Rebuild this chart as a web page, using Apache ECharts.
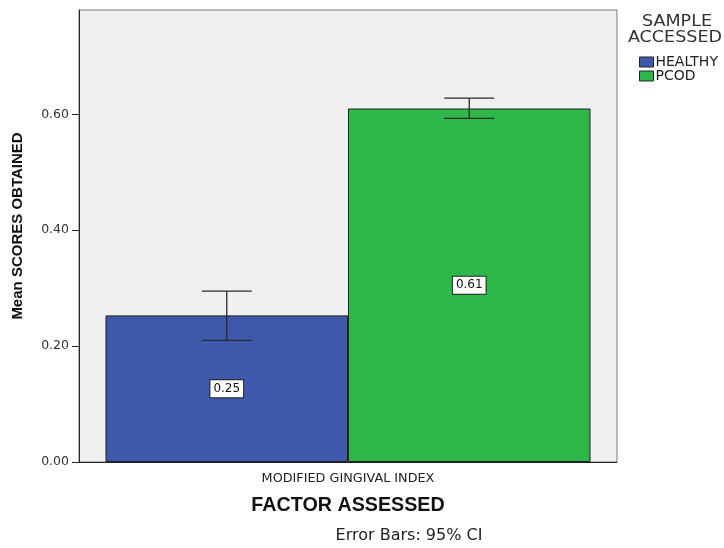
<!DOCTYPE html>
<html>
<head>
<meta charset="utf-8">
<script src="https://cdn.jsdelivr.net/npm/echarts@6/dist/echarts.min.js"></script>
<style>
	html,body{margin:0;padding:0;background:#fff;}
	#chart{width:724px;height:548px;}
</style>
</head>
<body>
<div id="chart"></div>
<script>
// data
var categories = ['MODIFIED GINGIVAL INDEX'];
var groups = ['HEALTHY', 'PCOD'];
var colors = ['#3e58ac', '#2eb84a'];
var healthyMean = [0.253];
var pcodMean = [0.610];
var healthyCI = [[0.210, 0.295]];
var pcodCI = [[0.593, 0.628]];
var yTicks = [0, 0.2, 0.4, 0.6];

var catGap = 0.0985;

function errorBar(seriesIdx, ci){
	return {
		type:'custom',
		name:'err' + seriesIdx,
		z:10,
		silent:true,
		data:ci.map(function(d, i){ return [i, d[0], d[1]]; }),
		renderItem:function(params, api){
			var band = api.size([1, 0])[0];
			var barW = band * (1 - catGap) / 2;
			var lo = api.coord([api.value(0), api.value(1)]);
			var hi = api.coord([api.value(0), api.value(2)]);
			var x = lo[0] + (seriesIdx === 0 ? -barW / 2 : barW / 2);
			var cap = 25;
			var st = {stroke:'#2a2a2a', lineWidth:1.3};
			return {
				type:'group',
				children:[
					{type:'line', shape:{x1:x, y1:lo[1], x2:x, y2:hi[1]}, style:st},
					{type:'line', shape:{x1:x - cap, y1:lo[1], x2:x + cap, y2:lo[1]}, style:st},
					{type:'line', shape:{x1:x - cap, y1:hi[1], x2:x + cap, y2:hi[1]}, style:st}
				]
			};
		}
	};
}

var myChart = echarts.init(document.getElementById('chart'));
var labelStyle = {
	show:true,
	position:'inside',
	formatter:function(p){ return p.value.toFixed(2); },
	color:'#111',
	fontFamily:'DejaVu Sans',
	fontSize:12,
	backgroundColor:'#fff',
	borderColor:'#222',
	borderWidth:1,
	padding:[3, 3, 2, 3]
};
var option = {
	animation:false,
	textStyle:{fontFamily:'DejaVu Sans'},
	graphic:[
		{type:'text', x:409, y:536, style:{text:'Error Bars: 95% CI', font:'16px DejaVu Sans', fill:'#222', align:'center', verticalAlign:'middle'}},
		{type:'text', x:677, y:22, scaleX:1.17, style:{text:'SAMPLE', font:'15px DejaVu Sans', fill:'#333', align:'center', verticalAlign:'middle'}},
		{type:'text', x:675, y:38, scaleX:1.17, style:{text:'ACCESSED', font:'15px DejaVu Sans', fill:'#333', align:'center', verticalAlign:'middle'}},
		{type:'text', x:18, y:226, rotation:Math.PI / 2, style:{text:'Mean SCORES OBTAINED', font:'bold 15px Liberation Sans', fill:'#111', align:'center', verticalAlign:'middle'}}
	],
	legend:{
		orient:'vertical',
		left:634,
		top:50,
		itemWidth:14,
		itemHeight:10,
		itemGap:0,
		icon:'rect',
		textStyle:{fontSize:14, lineHeight:12, color:'#222', padding:[0, 0, 0, -3]},
		itemStyle:{borderColor:'#222', borderWidth:1},
		data:groups
	},
	grid:{
		left:79,
		top:10,
		width:538,
		height:452,
		show:true,
		backgroundColor:'#f0f0f0',
		borderColor:'#777',
		borderWidth:1
	},
	xAxis:{
		type:'category',
		data:categories,
		name:'FACTOR ASSESSED',
		nameLocation:'middle',
		nameGap:34,
		nameTextStyle:{fontSize:19.7, fontWeight:'bold', color:'#111', fontFamily:'Liberation Sans'},
		axisLine:{lineStyle:{color:'#222'}},
		axisTick:{alignWithLabel:true, length:6, lineStyle:{color:'#222'}},
		axisLabel:{fontSize:12.8, color:'#222', margin:10}
	},
	yAxis:{
		type:'value',
		min:0,
		max:0.78,
		interval:0.2,
		splitLine:{show:false},
		axisLine:{show:true, lineStyle:{color:'#222'}},
		axisTick:{show:true, length:7, lineStyle:{color:'#222'}, customValues:yTicks},
		axisLabel:{
			fontSize:12.5,
			color:'#333',
			margin:10,
			customValues:yTicks,
			formatter:function(v){ return v.toFixed(2); }
		}
	},
	series:[
		{
			name:groups[0],
			type:'bar',
			data:healthyMean,
			barGap:'0%',
			barCategoryGap:(catGap * 100) + '%',
			itemStyle:{color:colors[0], borderColor:'#222', borderWidth:1},
			label:labelStyle
		},
		{
			name:groups[1],
			type:'bar',
			data:pcodMean,
			barGap:'0%',
			barCategoryGap:(catGap * 100) + '%',
			itemStyle:{color:colors[1], borderColor:'#222', borderWidth:1},
			label:labelStyle
		},
		errorBar(0, healthyCI),
		errorBar(1, pcodCI)
	]
};
myChart.setOption(option);
</script>
</body>
</html>
